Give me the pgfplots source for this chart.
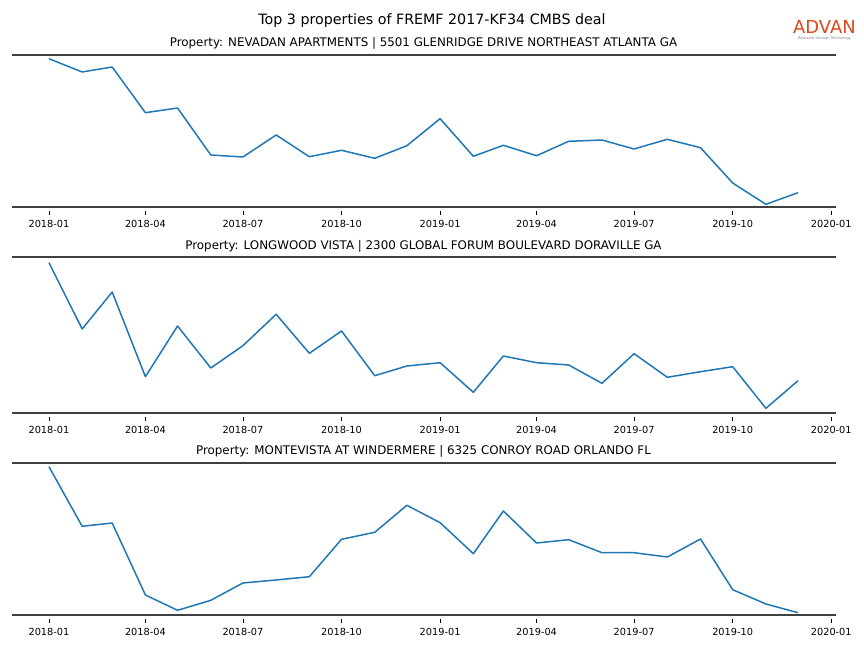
\documentclass[border=0pt]{standalone}
\usepackage{pgfplots}
\pgfplotsset{compat=1.18}
\usepackage{fontspec}
\setmainfont{DejaVu Sans}
\definecolor{mplblue}{RGB}{31,119,180}
\definecolor{spinecol}{RGB}{64,64,64}
\definecolor{advan}{RGB}{222,72,28}
\pgfplotsset{
  panel/.style={
    scale only axis, width=824bp, anchor=south west,
    xmin=-34.95, xmax=733.95, ymin=0,
    axis x line=box, axis y line=none, ytick=\empty,
    x axis line style={spinecol, line width=2bp},
    xtick={0,90,181,273,365,455,546,638,730},
    xticklabels={2018-01,2018-04,2018-07,2018-10,2019-01,2019-04,2019-07,2019-10,2020-01},
    xtick pos=bottom, tick align=outside, major tick length=4bp,
    xtick style={black, line width=0.8bp, yshift=-4.5bp},
    xticklabel style={font=\fontsize{9.8}{11}\selectfont, inner sep=0pt, anchor=north, yshift=-9bp},
    /pgf/number format/assume math mode=true,
    every axis title/.style={font=\fontsize{11.9}{14}\selectfont, at={(0.5,1)}, anchor=base, yshift=8bp},
    clip=false,
  }
}
\pgfplotstableread{
d v
0 148.0
31 134.7
59 139.7
90 94.0
120 98.7
151 51.7
181 49.7
212 71.7
243 50.0
273 56.4
304 48.4
334 61.0
365 88.0
396 50.4
424 61.4
455 51.0
485 65.4
516 66.7
546 57.7
577 67.4
608 59.0
638 23.7
669 2.4
699 14.0
}\tableA
\pgfplotstableread{
d v
0 150.3
31 84.0
59 121.0
90 36.3
120 87.0
151 45.0
181 67.3
212 98.7
243 59.7
273 82.0
304 37.3
334 47.0
365 50.3
396 20.7
424 57.0
455 50.3
485 48.0
516 29.7
546 59.3
577 35.7
608 41.3
638 46.3
669 4.7
699 32.3
}\tableB
\pgfplotstableread{
d v
0 148.0
31 88.4
59 91.7
90 19.7
120 4.4
151 14.4
181 31.7
212 34.7
243 38.0
273 75.4
304 82.4
334 109.4
365 92.0
396 61.0
424 103.7
455 71.7
485 75.0
516 62.0
546 62.0
577 57.7
608 75.7
638 25.0
669 10.7
699 2.0
}\tableC
\begin{document}
\begin{tikzpicture}
\path[use as bounding box] (0,0) rectangle (864bp,648bp);
\node[anchor=base, font=\fontsize{14.3}{16}\selectfont] at (432bp,623.5bp) {Top 3 properties of FREMF 2017-KF34 CMBS deal};
\node[anchor=base, font=\fontsize{18}{20}\selectfont, text=advan, inner sep=0pt] at (824.5bp,614bp) {ADVAN};
\node[anchor=base, font=\fontsize{3.6}{4}\selectfont, text=gray, inner sep=0pt] at (824.5bp,608bp) {Research through Technology};
\begin{axis}[panel, at={(11.5bp,441.3bp)}, height=152bp, ymax=152,
  title={Property: NEVADAN APARTMENTS | 5501 GLENRIDGE DRIVE NORTHEAST ATLANTA GA}]
\addplot[mplblue, line width=1.5bp, line join=round] table[x=d, y=v] {\tableA};
\end{axis}
\begin{axis}[panel, at={(11.5bp,235bp)}, height=155.7bp, ymax=155.7,
  title={Property: LONGWOOD VISTA | 2300 GLOBAL FORUM BOULEVARD DORAVILLE GA}]
\addplot[mplblue, line width=1.5bp, line join=round] table[x=d, y=v] {\tableB};
\end{axis}
\begin{axis}[panel, at={(11.5bp,33.3bp)}, height=152bp, ymax=152,
  title={Property: MONTEVISTA AT WINDERMERE | 6325 CONROY ROAD ORLANDO FL}]
\addplot[mplblue, line width=1.5bp, line join=round] table[x=d, y=v] {\tableC};
\end{axis}
\end{tikzpicture}
\end{document}
